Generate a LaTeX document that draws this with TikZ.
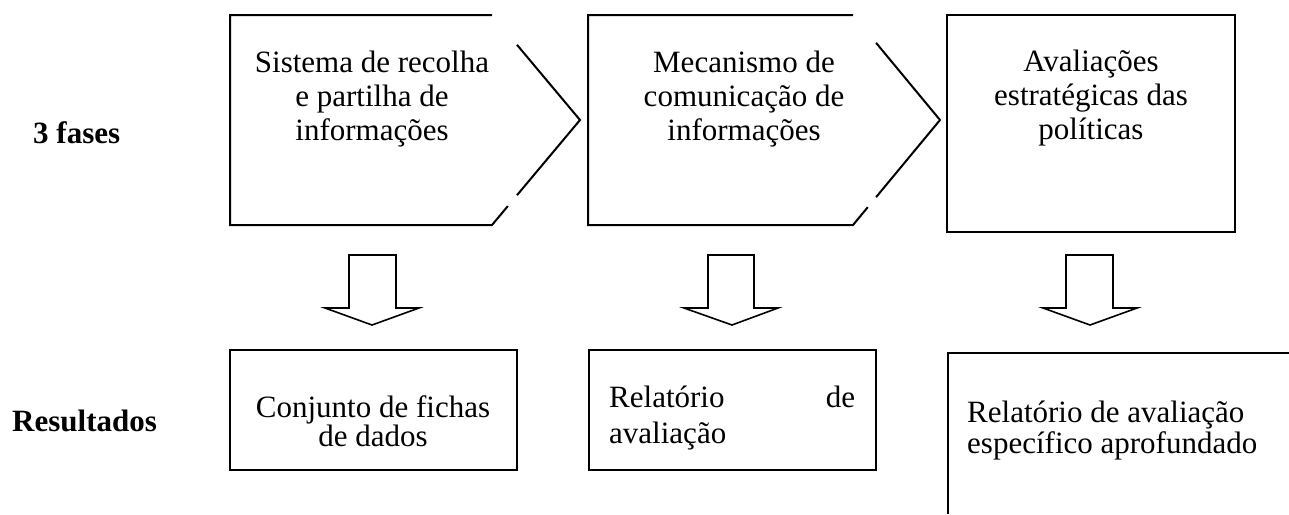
\documentclass[tikz,border=0pt]{standalone}
\usepackage{fontspec}
\setmainfont{Liberation Serif}
\usetikzlibrary{calc}
\begin{document}
\begin{tikzpicture}[x=1pt,y=-1pt,
  ln/.style={line width=2pt, line join=miter},
  blk/.style={line width=1.6pt, line join=miter},
  txt/.style={inner sep=0pt, align=center, font=\fontsize{31}{34}\selectfont},
  lbl/.style={inner sep=0pt, font=\fontsize{31}{33}\selectfont\bfseries}]
\useasboundingbox (0,0) rectangle (1289,514);
% phase 1 chevron
\coordinate (p1a) at (230,15);
\coordinate (p1b) at (492,15);
\coordinate (p1c) at (580,120);
\coordinate (p1d) at (492,225);
\coordinate (p1e) at (230,225);
\draw[ln] (p1b) -- (p1a) -- (p1e) -- (p1d) -- ($(p1d)!0.18!(p1c)$);
\draw[ln] ($(p1d)!0.284!(p1c)$) -- (p1c) -- ($(p1b)!0.284!(p1c)$);
% phase 2 chevron
\coordinate (p2a) at (588,15);
\coordinate (p2b) at (853,15);
\coordinate (p2c) at (940,120);
\coordinate (p2d) at (853,225);
\coordinate (p2e) at (588,225);
\draw[ln] (p2b) -- (p2a) -- (p2e) -- (p2d) -- ($(p2d)!0.17!(p2c)$);
\draw[ln] ($(p2d)!0.265!(p2c)$) -- (p2c) -- ($(p2b)!0.265!(p2c)$);
% phase 3 box
\draw[ln] (947,15) rectangle (1235,232);
% phase texts
\node[txt, anchor=north] (t1) at (372,51) {Sistema de recolha\\e partilha de\\informações};
\node[txt, anchor=north] (t2) at (744,51) {Mecanismo de\\comunicação de\\informações};
\node[txt, anchor=north] (t3) at (1091,50) {Avaliações\\estratégicas das\\políticas};
% row labels
\node[lbl, anchor=base west] (fases) at (33,143) {3 fases};
\node[lbl, anchor=base west] (res) at (12,431) {Resultados};
% block arrows
\draw[blk] (349,255) -- (396,255) -- (396,308) -- (419,308) -- (372,325) -- (325,308) -- (349,308) -- cycle;
\draw[blk] (708,255) -- (754,255) -- (754,308) -- (778,308) -- (732,325) -- (684,308) -- (708,308) -- cycle;
\draw[blk] (1066,255) -- (1113,255) -- (1113,308) -- (1137,308) -- (1090,325) -- (1043,308) -- (1066,308) -- cycle;
% result boxes
\draw[ln] (230,350) rectangle (517,470);
\draw[ln] (589,350) rectangle (876,470);
\draw[ln] (1289,353) -- (948,353) -- (948,514);
\node[txt, anchor=north, font=\fontsize{31}{29}\selectfont] (r1) at (373,395) {Conjunto de fichas\\de dados};
\node[inner sep=0pt, anchor=north west, text width=246pt, align=left, font=\fontsize{31}{36}\selectfont] (r2) at (609,386) {Relatório\hfill de\\avaliação};
\node[inner sep=0pt, anchor=north west, align=left, font=\fontsize{31}{31}\selectfont] (r3) at (967,401) {Relatório de avaliação\\específico aprofundado};
\end{tikzpicture}
\end{document}
